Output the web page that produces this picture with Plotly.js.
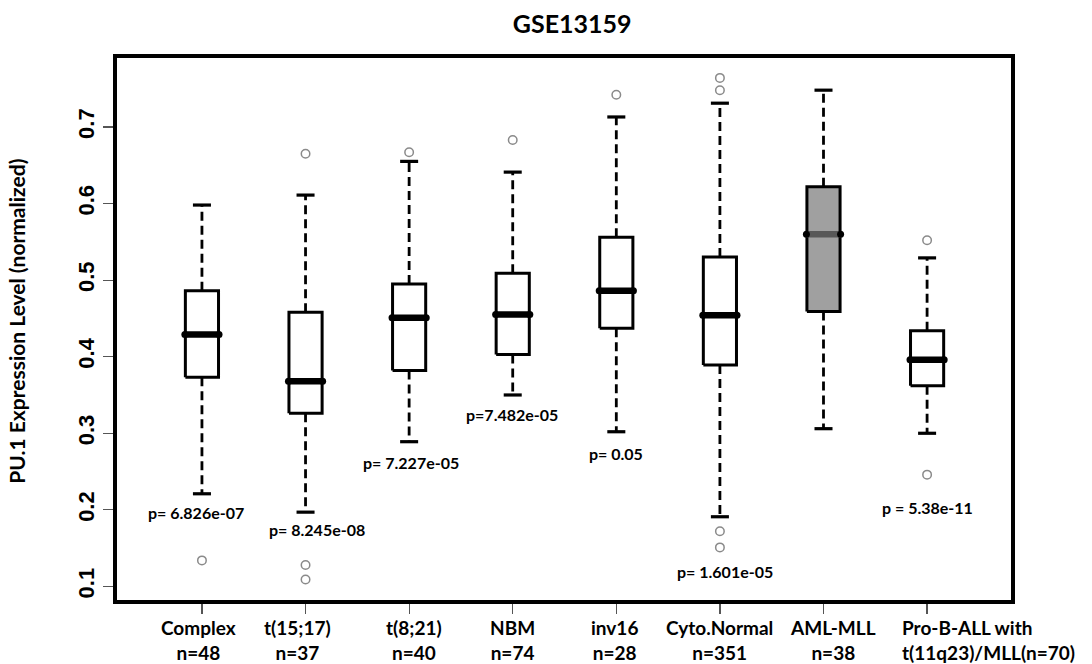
<!DOCTYPE html>
<html>
<head>
<meta charset="utf-8">
<script src="https://cdn.plot.ly/plotly-3.0.1.min.js"></script>
<style>
  html, body { margin: 0; padding: 0; background: #ffffff; }
  #chart { width: 1092px; height: 664px; }
</style>
</head>
<body>
<div id="chart"></div>
<script>
// PU.1 expression by leukemia subtype (GSE13159)
const groups = ['Complex', 't(15;17)', 't(8;21)', 'NBM', 'inv16', 'Cyto.Normal', 'AML-MLL', 'Pro-B-ALL'];
const tickLabels = [
  'Complex<br>n=48', 't(15;17)<br>n=37', 't(8;21)<br>n=40', 'NBM<br>n=74',
  'inv16<br>n=28', 'Cyto.Normal<br>n=351', 'AML-MLL<br>n=38', 'Pro-B-ALL with<br>t(11q23)/MLL(n=70)'
];

// five-number summaries (whisker ends, quartiles, median)
const lowerWhisker = [0.221, 0.197, 0.289, 0.350, 0.302, 0.191, 0.306, 0.300];
const q1           = [0.373, 0.326, 0.382, 0.403, 0.437, 0.389, 0.459, 0.362];
const median       = [0.429, 0.368, 0.451, 0.455, 0.486, 0.454, 0.560, 0.396];
const q3           = [0.486, 0.458, 0.495, 0.509, 0.556, 0.530, 0.622, 0.434];
const upperWhisker = [0.598, 0.611, 0.655, 0.641, 0.713, 0.731, 0.748, 0.529];

// points beyond the whiskers
const outliers = [
  [0.134],
  [0.665, 0.128, 0.109],
  [0.667],
  [0.683],
  [0.742],
  [0.764, 0.748, 0.172, 0.151],
  [],
  [0.552, 0.246]
];

// Wilcoxon p-values versus AML-MLL
const pLabels = ['p= 6.826e-07', 'p= 8.245e-08', 'p= 7.227e-05', 'p=7.482e-05', 'p= 0.05', 'p= 1.601e-05', '', 'p = 5.38e-11'];
const pLabelX = [0.94, 2.11, 3.02, 3.99, 5.0, 6.05, 7, 8.0];
const pLabelY = [0.197, 0.174, 0.262, 0.325, 0.273, 0.119, 0, 0.203];

const highlight = 'AML-MLL';

// drawing geometry (in category units / pixels)
const boxHalf = 0.16;
const stapleHalf = 0.087;
const medianHalf = 0.165;
const labelShift = [-3, -8, 5, 0, -2, 0, 9, -27];   // px nudges for the category captions
const labelAnchor = ['center', 'center', 'center', 'center', 'center', 'center', 'center', 'left'];

const traces = [];

// dashed whiskers
const wx = [], wy = [];
groups.forEach((g, i) => {
  const c = i + 1;
  wx.push(c, c, null, c, c, null);
  wy.push(q3[i], upperWhisker[i], null, q1[i], lowerWhisker[i], null);
});
traces.push({
  type: 'scatter', mode: 'lines', x: wx, y: wy,
  line: { color: '#000000', width: 2.8, dash: '9px,5px' },
  hoverinfo: 'skip', showlegend: false
});

// staples
const sx = [], sy = [];
groups.forEach((g, i) => {
  const c = i + 1;
  sx.push(c - stapleHalf, c + stapleHalf, null, c - stapleHalf, c + stapleHalf, null);
  sy.push(upperWhisker[i], upperWhisker[i], null, lowerWhisker[i], lowerWhisker[i], null);
});
traces.push({
  type: 'scatter', mode: 'lines', x: sx, y: sy,
  line: { color: '#000000', width: 3.2 },
  hoverinfo: 'skip', showlegend: false
});

// boxes
groups.forEach((g, i) => {
  const c = i + 1;
  traces.push({
    type: 'scatter', mode: 'lines', fill: 'toself',
    fillcolor: g === highlight ? '#a0a0a0' : '#ffffff',
    x: [c - boxHalf, c + boxHalf, c + boxHalf, c - boxHalf, c - boxHalf],
    y: [q1[i], q1[i], q3[i], q3[i], q1[i]],
    line: { color: '#000000', width: 3 },
    hoverinfo: 'skip', showlegend: false
  });
});

// medians
groups.forEach((g, i) => {
  const c = i + 1;
  traces.push({
    type: 'scatter', mode: 'lines+markers',
    x: [c - medianHalf, c + medianHalf],
    y: [median[i], median[i]],
    line: { color: g === highlight ? '#585858' : '#000000', width: 6.5 },
    marker: { color: '#000000', size: 7, symbol: 'circle' },
    hoverinfo: 'skip', showlegend: false
  });
});

// outliers
const ox = [], oy = [];
outliers.forEach((vals, i) => {
  vals.forEach(v => { ox.push(i + 1); oy.push(v); });
});
traces.push({
  type: 'scatter', mode: 'markers', x: ox, y: oy,
  marker: { symbol: 'circle-open', size: 8.5, color: '#8a8a8a', line: { width: 1.5, color: '#8a8a8a' } },
  hoverinfo: 'skip', showlegend: false
});

const sansBold = 'Lato, "Open Sans", sans-serif';
const labelFont = { family: sansBold, size: 16, color: '#000000', weight: 700 };
const captionFont = { family: sansBold, size: 19, color: '#000000', weight: 700 };

const annotations = pLabels.map((t, i) => ({
  text: t, x: pLabelX[i], y: pLabelY[i], xref: 'x', yref: 'y',
  showarrow: false, font: labelFont, xanchor: 'center', yanchor: 'middle'
})).filter(a => a.text !== '');

// category captions under the axis
tickLabels.forEach((t, i) => {
  annotations.push({
    text: t, x: i + 1, xref: 'x', y: 0, yref: 'paper',
    xanchor: labelAnchor[i], align: labelAnchor[i] === 'left' ? 'left' : 'center',
    yanchor: 'top', xshift: labelShift[i], yshift: -14,
    showarrow: false, font: captionFont
  });
});

// y-axis title
annotations.push({
  text: 'PU.1 Expression Level (normalized)',
  x: -0.112, xref: 'paper', y: 0.515, yref: 'paper',
  xanchor: 'center', yanchor: 'middle', textangle: -90,
  showarrow: false, font: { family: sansBold, size: 21, color: '#000000', weight: 700 }
});

const layout = {
  width: 1092, height: 664,
  margin: { l: 117, r: 81, t: 58, b: 64 },
  paper_bgcolor: '#ffffff', plot_bgcolor: '#ffffff',
  showlegend: false,
  hovermode: false,
  title: {
    text: 'GSE13159',
    x: 0.524, xref: 'container', xanchor: 'center',
    y: 0.964, yref: 'container', yanchor: 'middle',
    font: { family: sansBold, size: 25, color: '#000000', weight: 700 }
  },
  xaxis: {
    range: [0.18, 8.81],
    tickmode: 'array',
    tickvals: groups.map((g, i) => i + 1),
    ticktext: groups.map(() => ''),
    ticks: 'outside', ticklen: 10, tickwidth: 1.2, tickcolor: '#555555',
    showline: true, mirror: true, linewidth: 4, linecolor: '#000000',
    showgrid: false, zeroline: false, fixedrange: true, automargin: false
  },
  yaxis: {
    range: [0.0823, 0.790],
    tickmode: 'array',
    tickvals: [0.1, 0.2, 0.3, 0.4, 0.5, 0.6, 0.7],
    ticktext: ['0.1', '0.2', '0.3', '0.4', '0.5', '0.6', '0.7'],
    tickangle: -90,
    ticks: 'outside', ticklen: 10, tickwidth: 1.2, tickcolor: '#555555',
    tickfont: { family: '"Liberation Sans", Arial, sans-serif', size: 22, color: '#000000', weight: 700 },
    showline: true, mirror: true, linewidth: 4, linecolor: '#000000',
    showgrid: false, zeroline: false, fixedrange: true, automargin: false
  },
  annotations: annotations
};

Plotly.newPlot('chart', traces, layout, { displayModeBar: false, staticPlot: true });
</script>
</body>
</html>
